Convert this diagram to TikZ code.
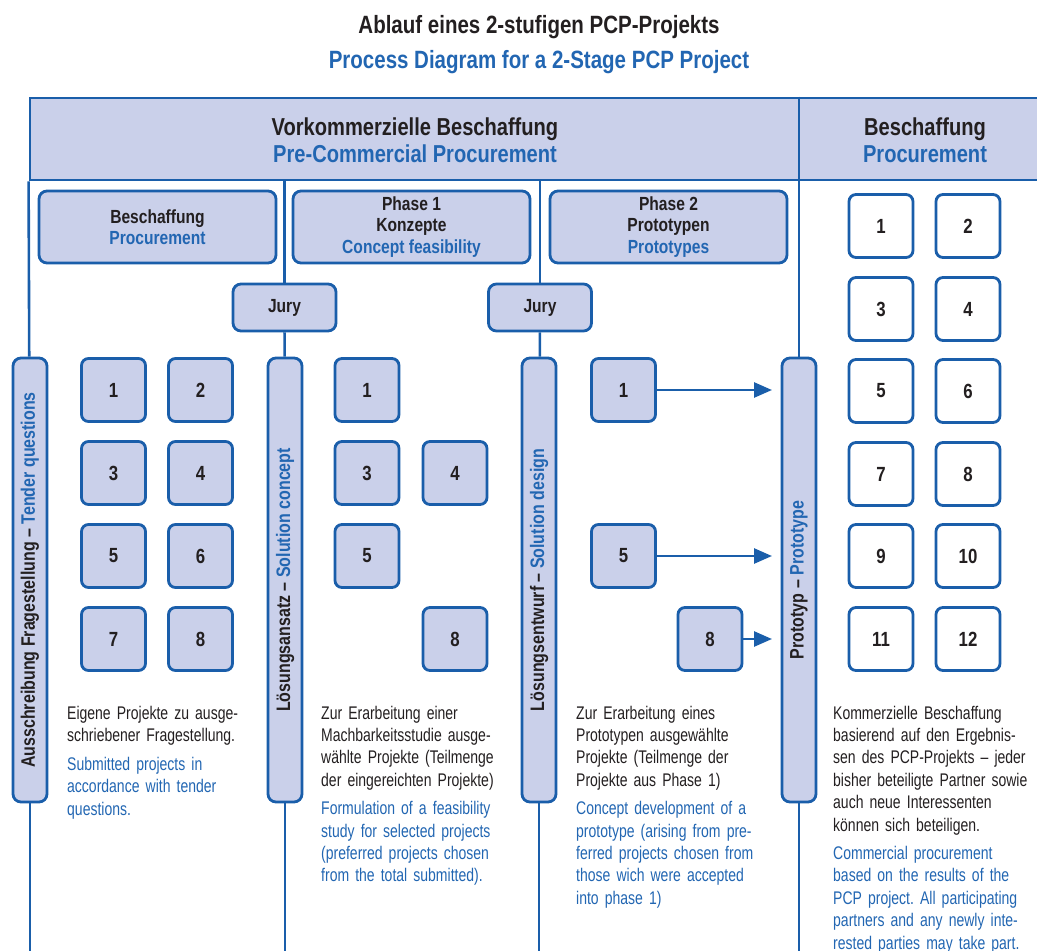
\documentclass[tikz,border=0pt]{standalone}
\usepackage{fontspec}
\setmainfont{Liberation Sans}[FakeStretch=0.82]
\newfontfamily\narrowbody{Liberation Sans}[FakeStretch=0.765]
\usetikzlibrary{arrows.meta}
\definecolor{lav}{RGB}{202,208,234}
\definecolor{blu}{RGB}{26,94,170}
\definecolor{tblu}{RGB}{34,102,178}
\definecolor{ink}{RGB}{35,31,32}
\frenchspacing
\begin{document}
\begin{tikzpicture}[x=1pt,y=-1pt,
  conn/.style={draw=blu,line width=2.6pt},
  arr/.style={draw=blu,line width=2.6pt,-{Triangle[length=18pt,width=15pt]}},
  hdrbox/.style={draw=blu,fill=lav,line width=2.8pt,minimum width=1015pt,minimum height=82pt,inner sep=0pt},
  hdrtxt/.style={align=center,inner sep=0pt,font=\fontsize{24.5}{27}\selectfont\bfseries,text=ink},
  titletxt/.style={anchor=base,inner sep=0pt,font=\fontsize{25}{30}\selectfont\bfseries},
  subbox/.style={draw=blu,fill=lav,line width=2.8pt,rounded corners=8pt,minimum width=237pt,minimum height=72pt,align=center,inner sep=0pt,font=\fontsize{19}{21.5}\selectfont\bfseries,text=ink},
  jurybox/.style={draw=blu,fill=lav,line width=2.8pt,rounded corners=8pt,minimum width=103pt,minimum height=47pt,inner sep=0pt,font=\fontsize{19}{22}\selectfont\bfseries,text=ink},
  numbox/.style={draw=blu,fill=lav,line width=2.8pt,rounded corners=7pt,minimum width=64pt,minimum height=63pt,inner sep=0pt,font=\fontsize{20.5}{22}\selectfont\bfseries,text=ink},
  numwbox/.style={numbox,fill=white},
  barbox/.style={draw=blu,fill=lav,line width=2.8pt,rounded corners=8pt,minimum width=444pt,minimum height=34pt,rotate=90,inner sep=0pt,font=\fontsize{19.5}{22}\selectfont\bfseries,text=ink},
  body/.style={anchor=base west,text width=206pt,align=left,inner sep=0pt,font=\narrowbody\fontsize{18.3}{22.4}\selectfont,text=ink}
]
\useasboundingbox (0,0) rectangle (1037,951);
\clip (0,0) rectangle (1037,951);

% title
\node[titletxt,text=ink] (t1) at (539,33) {Ablauf eines 2-stufigen PCP-Projekts};
\node[titletxt,text=tblu] (t2) at (539,68) {Process Diagram for a 2-Stage PCP Project};

% header
\node[hdrbox] (hdr) at (537.5,139) {};
\node[hdrtxt] (hA) at (415,140) {Vorkommerzielle Beschaffung\\\textcolor{tblu}{Pre-Commercial Procurement}};
\node[hdrtxt] (hB) at (925,140) {Beschaffung\\\textcolor{tblu}{Procurement}};

% sub boxes
\node[subbox] (s1) at (157.5,227) {Beschaffung\\\textcolor{tblu}{Procurement}};
\node[subbox] (s2) at (411.5,227) {Phase 1\\Konzepte\\\textcolor{tblu}{Concept feasibility}};
\node[subbox] (s3) at (668.5,227) {Phase 2\\Prototypen\\\textcolor{tblu}{Prototypes}};

% jury
\node[jurybox] (j1) at (284.5,307.5) {Jury};
\node[jurybox] (j2) at (540,307.5) {Jury};

% bars
\node[barbox] (b1) at (30,580) {Ausschreibung Fragestellung – \textcolor{tblu}{Tender questions}};
\node[barbox] (b2) at (285,580) {Lösungsansatz – \textcolor{tblu}{Solution concept}};
\node[barbox] (b3) at (539,580) {Lösungsentwurf – \textcolor{tblu}{Solution design}};
\node[barbox] (b4) at (799,580) {Prototyp – \textcolor{tblu}{Prototype}};

% bottom ends
\coordinate (e1) at (30,955);
\coordinate (e2) at (285,955);
\coordinate (e3) at (539,955);
\coordinate (e4) at (799,955);

% connectors
\draw[conn] (hdr.south west) -- (b1);
\draw[conn] (b1) -- (e1);
\draw[conn] (hdr.south -| j1) -- (j1);
\draw[conn] (j1) -- (b2);
\draw[conn] (b2) -- (e2);
\draw[conn] (hdr.south -| j2) -- (j2);
\draw[conn] (j2) -- (b3);
\draw[conn] (b3) -- (e3);
\draw[conn] (hdr.north -| b4) -- (b4);
\draw[conn] (b4) -- (e4);

% column 1 boxes
\node[numbox] (a1) at (113.5,390) {1};
\node[numbox] (a2) at (200.5,390) {2};
\node[numbox] (a3) at (113.5,473) {3};
\node[numbox] (a4) at (200.5,473) {4};
\node[numbox] (a5) at (113.5,556) {5};
\node[numbox] (a6) at (200.5,556) {6};
\node[numbox] (a7) at (113.5,639) {7};
\node[numbox] (a8) at (200.5,639) {8};

% column 2 boxes
\node[numbox] (c1) at (367,390) {1};
\node[numbox] (c3) at (367,473) {3};
\node[numbox] (c4) at (455,473) {4};
\node[numbox] (c5) at (367,556) {5};
\node[numbox] (c8) at (455,639) {8};

% column 3 boxes
\node[numbox] (d1) at (623.5,390) {1};
\node[numbox] (d5) at (623.5,556) {5};
\node[numbox] (d8) at (710,639) {8};

\draw[arr,shorten >=27pt] (d1) -- (d1 -| b4.center);
\draw[arr,shorten >=27pt] (d5) -- (d5 -| b4.center);
\draw[arr,shorten >=27pt] (d8) -- (d8 -| b4.center);

% right column boxes
\node[numwbox] (r1) at (881,226) {1};
\node[numwbox] (r2) at (968,226) {2};
\node[numwbox] (r3) at (881,309) {3};
\node[numwbox] (r4) at (968,309) {4};
\node[numwbox] (r5) at (881,391) {5};
\node[numwbox] (r6) at (968,391) {6};
\node[numwbox] (r7) at (881,474) {7};
\node[numwbox] (r8) at (968,474) {8};
\node[numwbox] (r9) at (881,556) {9};
\node[numwbox] (r10) at (968,556) {10};
\node[numwbox] (r11) at (881,639) {11};
\node[numwbox] (r12) at (968,639) {12};

% descriptive texts
\node[body] (x1) at (67,719) {Eigene Projekte zu ausge-\\schriebener Fragestellung.\\[6.5pt]\color{tblu}Submitted projects in\\accordance with tender\\questions.};
\node[body] (x2) at (321,719) {Zur Erarbeitung einer\\Machbarkeitsstudie ausge-\\wählte Projekte (Teilmenge\\der eingereichten Projekte)\\[6pt]\color{tblu}Formulation of a feasibility\\study for selected projects\\(preferred projects chosen\\from the total submitted).};
\node[body] (x3) at (576,719) {Zur Erarbeitung eines\\Prototypen ausgewählte\\Projekte (Teilmenge der\\Projekte aus Phase 1)\\[6pt]\color{tblu}Concept development of a\\prototype (arising from pre-\\ferred projects chosen from\\those wich were accepted\\into phase 1)};
\node[body] (x4) at (833,719) {Kommerzielle Beschaffung\\basierend auf den Ergebnis-\\sen des PCP-Projekts – jeder\\bisher beteiligte Partner sowie\\auch neue Interessenten\\können sich beteiligen.\\[6pt]\color{tblu}Commercial procurement\\based on the results of the\\PCP project. All participating\\partners and any newly inte-\\rested parties may take part.};
\end{tikzpicture}
\end{document}
